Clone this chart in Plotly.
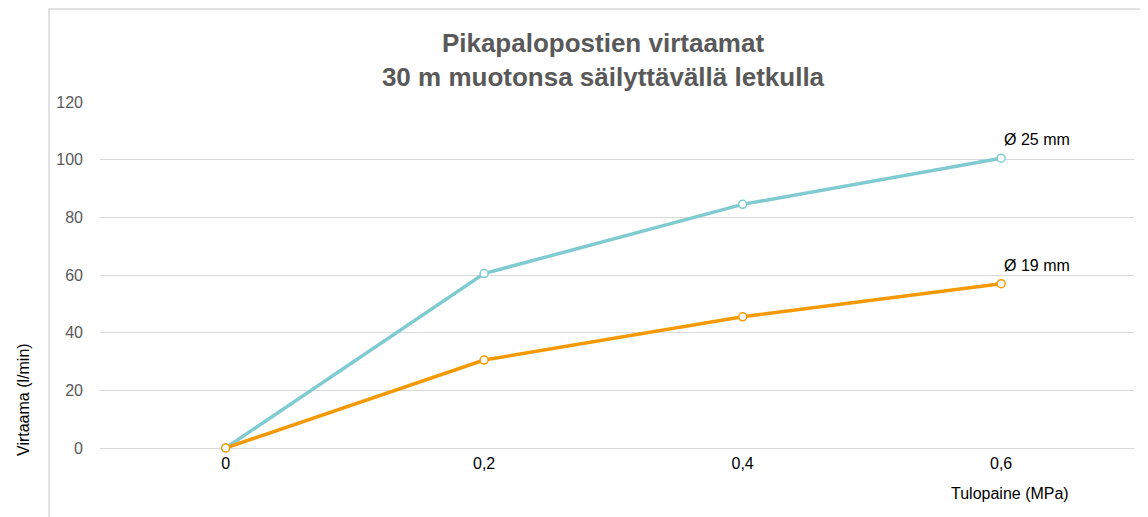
import plotly.graph_objects as go

pressure_labels = ["0", "0,2", "0,4", "0,6"]
flow_25mm = [0, 60.5, 84.5, 100.5]
flow_19mm = [0, 30.5, 45.5, 57]
series_names = ["Ø 25 mm", "Ø 19 mm"]
y_ticks = [0, 20, 40, 60, 80, 100, 120]

blue = "#7FCBD0"
orange = "#F59A06"
FONT = "Liberation Sans, Arial"

# page body has an 8px offset; plot area targets screen x 100..1134, y 102..448
OFF = 8
PL, PR, PT, PB = 100, 1134, 102, 448
PW, PH = PR - PL, PB - PT
fig = go.Figure()
for vals, col in [(flow_25mm, blue), (flow_19mm, orange)]:
    fig.add_trace(go.Scatter(
        x=pressure_labels, y=vals, mode="lines+markers",
        line=dict(color=col, width=3.5),
        marker=dict(symbol="circle", size=8, color="white", line=dict(color=col, width=1.5)),
        showlegend=False, cliponaxis=False))

for name, vals in zip(series_names, [flow_25mm, flow_19mm]):
    fig.add_annotation(x=pressure_labels[-1], y=vals[-1], text=name, showarrow=False,
                       xanchor="left", yanchor="bottom", xshift=1, yshift=8,
                       font=dict(family=FONT, size=16, color="#000000"))

fig.add_annotation(xref="paper", yref="paper", x=(1010 - PL) / PW, y=(PB - 493) / PH,
                   text="Tulopaine (MPa)", showarrow=False, xanchor="center", yanchor="middle",
                   font=dict(family=FONT, size=16, color="#000000"))
fig.add_annotation(xref="paper", yref="paper", x=(23 - PL) / PW, y=(PB - 400) / PH,
                   text="Virtaama (l/min)", showarrow=False, textangle=-90,
                   xanchor="center", yanchor="middle",
                   font=dict(family=FONT, size=16, color="#000000"))

fig.add_shape(type="rect", xref="paper", yref="paper",
              x0=(49 - PL) / PW, x1=1.2, y0=-0.5, y1=(PB - 9) / PH,
              line=dict(color="#D9D9D9", width=1.5), fillcolor="rgba(0,0,0,0)", layer="below")

fig.update_layout(
    width=1148, height=517,
    margin=dict(l=PL - OFF, r=1148 - (PR - OFF), t=PT - OFF, b=517 - (PB - OFF)),
    paper_bgcolor="white", plot_bgcolor="white",
    title=dict(text="<b>Pikapalopostien virtaamat<br>30 m muotonsa säilyttävällä letkulla</b>",
               x=(603 - OFF) / 1148, xanchor="center", y=1 - (52 - OFF) / 517, yanchor="middle",
               font=dict(family=FONT, size=26, color="#595959")),
    xaxis=dict(type="category", range=[-0.486, 3.514], showgrid=False, zeroline=False,
               showline=False, ticks="", ticklabelstandoff=4,
               tickfont=dict(family=FONT, size=16, color="#000000")),
    yaxis=dict(range=[0, 120], tickvals=y_ticks, showgrid=True, gridcolor="#D9D9D9",
               gridwidth=1, zeroline=True, zerolinecolor="#D9D9D9", zerolinewidth=1,
               showline=False, ticks="", ticklabelstandoff=16,
               tickfont=dict(family=FONT, size=16, color="#595959")),
)

fig.write_html("out.html")
